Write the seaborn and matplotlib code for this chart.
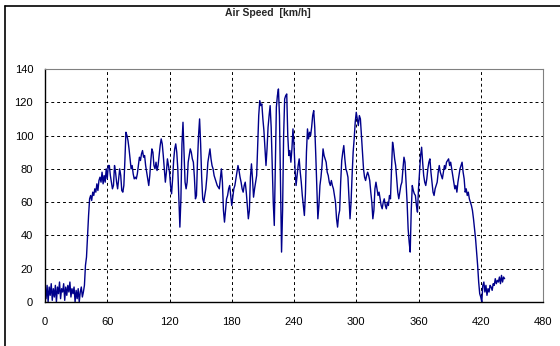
import numpy as np
import pandas as pd
import matplotlib
matplotlib.use("Agg")
import matplotlib.pyplot as plt
import seaborn as sns
from matplotlib.lines import Line2D

# Recorded air speed over the run, one sample per second
seconds = list(range(0, 445))

speed_start = [8, 2, 10, 0, 9, 4, 11, 1, 8, 3, 10, 0, 9, 5, 12, 2, 8, 6, 11, 1,
               9, 4, 10, 6, 12, 3, 8, 5, 9, 0, 7, 2, 8, 0, 6, 9, 3, 6, 10, 22,
               27, 40, 52, 62, 64, 61, 66, 64, 68, 66, 71, 67, 73, 75, 72, 78,
               71, 76, 72, 80, 74, 82]
speed_rest = [82, 76, 72, 68, 70, 82, 78, 72, 68, 74, 80, 76, 67, 66, 70, 85,
              102, 100, 97, 92, 86, 80, 82, 77, 74, 75, 74, 77, 82, 87, 85, 89,
              91, 87, 88, 82, 78, 74, 70, 76, 85, 92, 90, 82, 80, 84, 79, 82,
              88, 94, 98, 95, 88, 80, 72, 78, 86, 82, 78, 70, 65, 74, 85, 92,
              95, 90, 80, 62, 45, 62, 95, 108, 90, 72, 68, 72, 84, 88, 92, 90,
              86, 84, 75, 62, 64, 85, 100, 110, 95, 75, 62, 60, 64, 68, 75, 84,
              88, 92, 86, 82, 80, 76, 74, 72, 70, 69, 68, 74, 80, 72, 55, 48,
              55, 62, 64, 68, 70, 64, 58, 63, 68, 70, 74, 78, 82, 79, 75, 72,
              68, 66, 70, 72, 66, 58, 50, 55, 75, 83, 74, 63, 68, 72, 76, 95,
              112, 121, 118, 119, 110, 103, 92, 82, 92, 105, 112, 118, 105, 82,
              60, 46, 80, 117, 124, 128, 112, 70, 30, 55, 100, 122, 124, 125,
              100, 88, 91, 84, 92, 104, 94, 80, 70, 76, 82, 86, 78, 72, 64, 58,
              52, 65, 90, 104, 98, 102, 100, 105, 112, 115, 105, 88, 68, 50, 58,
              70, 75, 82, 92, 88, 86, 84, 78, 76, 72, 70, 73, 70, 68, 64, 60,
              50, 45, 52, 55, 72, 85, 90, 94, 86, 80, 78, 75, 62, 50, 60, 76,
              90, 98, 108, 114, 110, 106, 112, 110, 100, 90, 80, 75, 73, 76, 78,
              76, 73, 66, 60, 50, 55, 68, 72, 68, 64, 66, 62, 58, 56, 60, 62,
              58, 56, 60, 58, 64, 62, 80, 96, 92, 86, 82, 74, 66, 62, 66, 70,
              72, 80, 87, 84, 72, 60, 44, 36, 30, 55, 70, 67, 65, 64, 58, 54,
              68, 78, 88, 93, 84, 76, 72, 70, 74, 80, 84, 86, 78, 72, 66, 64,
              68, 70, 72, 78, 82, 78, 76, 74, 78, 82, 80, 84, 85, 86, 82, 84,
              80, 76, 72, 68, 70, 66, 72, 76, 80, 82, 84, 78, 74, 66, 68, 64,
              66, 62, 60, 58, 55, 50, 44, 38, 30, 22, 12, 5, 3, 0, 10, 12, 6,
              10, 4, 8, 6, 10, 9, 7, 11, 10, 14, 11, 13, 12, 15, 11, 16, 12,
              15, 14]
speed = speed_start + speed_rest
n = min(len(seconds), len(speed))
df = pd.DataFrame({"t": seconds[:n], "v": speed[:n]})

x_ticks = [0, 60, 120, 180, 240, 300, 360, 420, 480]
y_ticks = [0, 20, 40, 60, 80, 100, 120, 140]

sns.set_style("white")
plt.rcParams["font.family"] = ["Liberation Sans", "DejaVu Sans"]

fig = plt.figure(figsize=(5.6, 3.46), dpi=100)
ax = fig.add_axes([45 / 560, 1 - 302 / 346, 498 / 560, 233 / 346])

sns.lineplot(data=df, x="t", y="v", ax=ax, color="#00008b", linewidth=1.0,
             estimator=None, sort=False)

ax.set_xlim(0, 480)
ax.set_ylim(0, 140)
ax.set_xticks(x_ticks)
ax.set_yticks(y_ticks)
ax.set_xlabel("")
ax.set_ylabel("")
ax.tick_params(axis="both", direction="inout", length=5, width=0.8,
               labelsize=8, colors="black")
ax.tick_params(axis="x", pad=8)
ax.tick_params(axis="y", pad=6)

for v in x_ticks[1:-1]:
    ax.axvline(v, color="black", linestyle=(0, (3, 3)), linewidth=0.7, zorder=0)
for v in y_ticks[1:-1]:
    ax.axhline(v, color="black", linestyle=(0, (3, 3)), linewidth=0.7, zorder=0)

for side in ["left", "bottom"]:
    ax.spines[side].set_color("black")
    ax.spines[side].set_linewidth(1.0)
for side in ["top", "right"]:
    ax.spines[side].set_color("#808080")
    ax.spines[side].set_linewidth(0.8)

fig.text(268 / 560, 1 - 13 / 346, "Air Speed  [km/h]", ha="center", va="center",
         fontsize=7.5, fontweight="bold")

# Chart frame: left and top edges
fig.add_artist(Line2D([4.5 / 560, 4.5 / 560], [0, 1 - 5.5 / 346],
                      transform=fig.transFigure, color="black", linewidth=1.2))
fig.add_artist(Line2D([4.5 / 560, 1], [1 - 5.5 / 346, 1 - 5.5 / 346],
                      transform=fig.transFigure, color="black", linewidth=1.2))

fig.savefig("out.png", dpi=100)
